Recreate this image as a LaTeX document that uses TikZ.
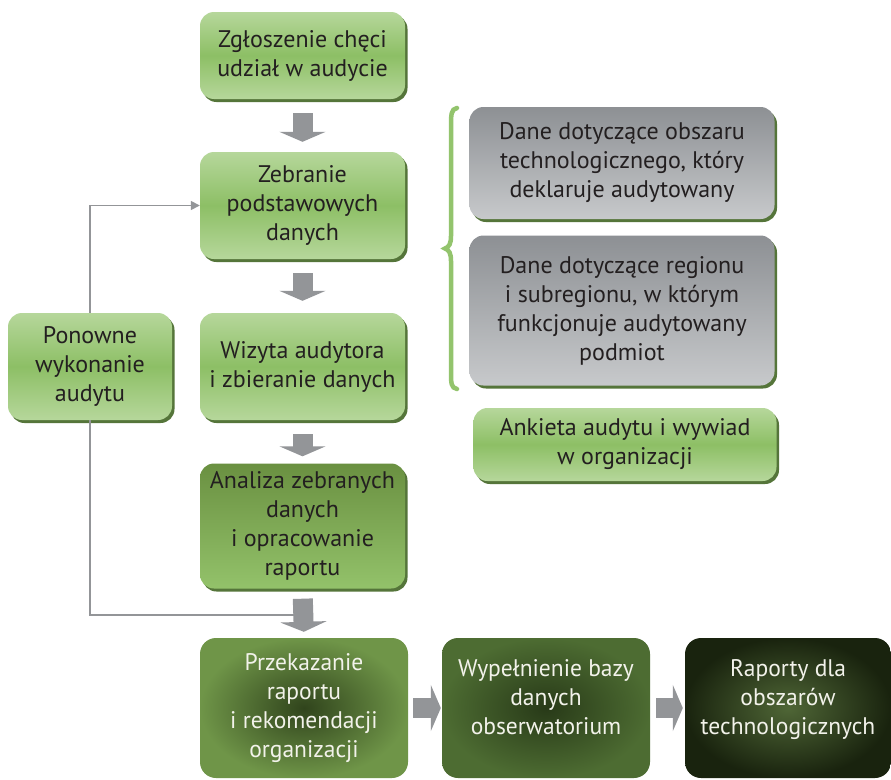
\documentclass[tikz,border=0pt]{standalone}
\usepackage{fontspec}
\setmainfont{PT Sans}
\newfontfamily\narrowfont[FakeStretch=0.98]{PT Sans}
\usetikzlibrary{shadows,arrows.meta,calc}

\definecolor{lightA}{HTML}{B6D79B}
\definecolor{lightB}{HTML}{8DBF65}
\definecolor{midA}{HTML}{6A9041}
\definecolor{midB}{HTML}{93C26A}
\definecolor{shadowgreen}{HTML}{55753A}
\definecolor{greyA}{HTML}{8D9094}
\definecolor{greyB}{HTML}{C7C9CB}
\definecolor{arrowgrey}{HTML}{939598}
\definecolor{inkdark}{HTML}{231F20}
\definecolor{braceg}{HTML}{93C46D}
\definecolor{pOut}{HTML}{6F9548}
\definecolor{pIn}{HTML}{30441C}
\definecolor{wOut}{HTML}{4D6C32}
\definecolor{wIn}{HTML}{283A18}
\definecolor{rOut}{HTML}{19230E}
\definecolor{rIn}{HTML}{4F6636}
\definecolor{paletext}{HTML}{F2F2EA}

% extra blank line that lifts a text block a little inside its box
\newcommand{\liftup}{\\[-6pt]\mbox{}}

\tikzset{
  box/.style={rectangle, rounded corners=14pt, inner sep=0pt, align=center,
    text=inkdark, font=\fontsize{24}{29}\selectfont,
    drop shadow={shadow xshift=2.5pt, shadow yshift=-3pt, fill=shadowgreen, opacity=1}},
  lightbox/.style={box, top color=lightA, bottom color=lightA, middle color=lightB},
  midbox/.style={box, top color=midA, bottom color=midB},
  greybox/.style={box, top color=greyA, bottom color=greyB},
  darkbox/.style={rectangle, rounded corners=16pt, inner sep=0pt, align=center,
    text=paletext, font=\narrowfont\fontsize{24}{29}\selectfont},
  fatarrow/.style={draw=arrowgrey, line width=20pt,
    -{Triangle[width=46pt,length=10pt]}},
  loopline/.style={draw=arrowgrey, line width=1.5pt},
}

\begin{document}
\begin{tikzpicture}[x=1pt,y=-1pt]
\useasboundingbox[fill=white] (0,0) rectangle (891,779);

% main column
\node[lightbox, minimum width=205pt, minimum height=87pt] (zgl) at (302.5,55.5)
  {Zgłoszenie chęci\\udział w audycie};
\node[lightbox, minimum width=205pt, minimum height=107pt] (zeb) at (302.5,205.5)
  {Zebranie\\podstawowych\\danych};
\node[lightbox, minimum width=205pt, minimum height=107pt] (wiz) at (302.5,366.5)
  {Wizyta audytora\\i zbieranie danych};
\node[midbox, minimum width=205pt, minimum height=125pt] (ana) at (302.5,526)
  {Analiza zebranych\\danych\\i opracowanie\\raportu};

% repeat-audit box on the left
\node[lightbox, minimum width=164pt, minimum height=107pt] (pon) at (90,366.5)
  {Ponowne\\wykonanie\\audytu};

% data sources on the right
\node[greybox, minimum width=305pt, minimum height=112pt] (obs) at (622,163)
  {Dane dotyczące obszaru\\technologicznego, który\\deklaruje audytowany};
\node[greybox, minimum width=305pt, minimum height=150pt] (reg) at (622,310.5)
  {Dane dotyczące regionu\\i subregionu, w którym\\funkcjonuje audytowany\\podmiot};
\node[lightbox, minimum width=303pt, minimum height=73pt] (ank) at (625,444.5)
  {Ankieta audytu i wywiad\\w organizacji};

% bottom row
\node[darkbox, inner color=pIn, outer color=pOut, minimum width=208pt, minimum height=140pt] (prz) at (304,708)
  {Przekazanie\\raportu\\i rekomendacji\\organizacji};
\node[darkbox, inner color=wIn, outer color=wOut, minimum width=208pt, minimum height=140pt] (wyp) at (546,708)
  {Wypełnienie bazy\\danych\\obserwatorium\liftup};
\node[darkbox, inner color=rIn, outer color=rOut, minimum width=206pt, minimum height=140pt] (rap) at (788,708)
  {Raporty dla\\obszarów\\technologicznych\liftup};

% brace grouping the grey boxes
\draw[braceg, line width=4.5pt, line cap=round]
  (457,108) .. controls (451,109) and (451,115) .. (451,126)
  -- (451,236) .. controls (451,244) and (449,247) .. (445,248.5)
  .. controls (449,250) and (451,253) .. (451,261)
  -- (451,372) .. controls (451,383) and (451,388) .. (457,389);

% feedback loop
\coordinate (join) at (302.5,615);
\draw[loopline, -{Triangle[width=9pt,length=9pt]}] (pon.north) |- (zeb.west);
\draw[loopline] (pon.south) |- (join);

% process arrows
\draw[fatarrow, shorten <=14pt, shorten >=10pt] (zgl.south) -- (zeb.north);
\draw[fatarrow, shorten <=14pt, shorten >=12pt] (zeb.south) -- (wiz.north);
\draw[fatarrow, shorten <=14pt, shorten >=7pt] (wiz.south) -- (ana.north);
\draw[fatarrow, shorten <=10pt, shorten >=6pt] (ana.south) -- (prz.north);
\draw[fatarrow, shorten <=5pt, shorten >=1pt] (prz.east) -- (wyp.west);
\draw[fatarrow, shorten <=6pt, shorten >=2pt] (wyp.east) -- (rap.west);
\end{tikzpicture}
\end{document}
